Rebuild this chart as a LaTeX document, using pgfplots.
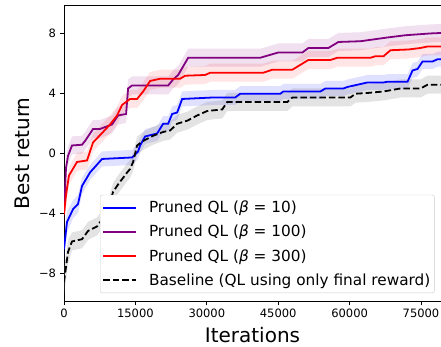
\documentclass[border=0pt]{standalone}
\usepackage{pgfplots}
\pgfplotsset{compat=1.18}
\usepackage{pgfplotstable}
\usepgfplotslibrary{fillbetween}
\usepackage{fontspec}
\setmainfont{DejaVu Sans}
\definecolor{mplpurple}{RGB}{128,0,128}
\definecolor{mplred}{RGB}{255,0,0}
\definecolor{mplblue}{RGB}{0,0,255}

\pgfplotstableread{
x y e
0 -6.4 0.8
631 -4.6 0.7
1894 -3.75 0.6
2946 -3.4 0.6
3787 -2.2 0.55
5470 -1.3 0.5
7995 -0.4 0.5
14307 -0.3 0.5
15570 0.1 0.5
15990 0.5 0.5
17042 1.1 0.5
19567 1.3 0.5
20830 1.95 0.5
21882 1.95 0.5
22723 2.6 0.5
23775 2.7 0.5
24827 3.6 0.5
31350 3.7 0.5
35978 3.7 0.5
37030 3.95 0.5
45446 3.95 0.5
46078 4.1 0.5
53862 4.1 0.5
54914 4.3 0.5
58702 4.3 0.5
59543 4.4 0.5
61648 4.55 0.5
63750 4.7 0.5
67118 4.7 0.5
67960 4.75 0.5
72167 4.75 0.5
73219 5.5 0.5
74271 5.6 0.5
75323 6.1 0.5
77427 6.1 0.5
78479 6.25 0.5
79200 6.25 0.5
}\bluedata

\pgfplotstableread{
x y e
0 -4.0 0.8
421 -1.0 0.7
842 -0.2 0.6
1683 0.5 0.6
3787 0.55 0.6
4418 0.8 0.6
6102 1.6 0.6
7574 1.6 0.6
10099 1.9 0.6
11362 2.5 0.6
13045 2.6 0.6
13466 4.3 0.6
14307 4.5 0.6
21882 4.5 0.6
22934 4.9 0.6
23986 5.2 0.6
26090 6.35 0.6
41238 6.35 0.6
45026 6.7 0.6
50075 6.7 0.6
51338 7.0 0.6
55546 7.0 0.6
57650 7.4 0.6
62278 7.45 0.6
67960 7.7 0.6
71746 7.85 0.6
77006 7.97 0.6
79200 8.0 0.6
}\purpledata

\pgfplotstableread{
x y e
0 -4.1 0.8
421 -2.8 0.7
1052 -1.5 0.6
2735 -0.6 0.6
4839 -0.5 0.6
6102 0.7 0.6
8206 1.4 0.6
9678 1.9 0.6
11151 2.5 0.6
12203 3.2 0.6
13886 3.6 0.6
15359 3.6 0.6
16622 4.1 0.6
18094 4.8 0.6
20198 4.95 0.6
24406 4.95 0.6
25458 5.15 0.6
29666 5.2 0.6
30718 5.35 0.6
41870 5.35 0.6
43763 5.55 0.6
47971 5.55 0.6
51338 6.2 0.6
55966 6.2 0.6
57439 6.35 0.6
64382 6.35 0.6
65434 6.45 0.6
67118 6.45 0.6
68590 6.85 0.6
72378 6.9 0.6
74902 7.0 0.6
76375 7.1 0.6
79200 7.1 0.6
}\reddata

\pgfplotstableread{
x y e
0 -8.6 0.9
842 -6.6 0.8
1683 -5.9 0.6
3787 -5.75 0.6
5050 -5.2 0.6
6943 -4.9 0.6
9047 -3.95 0.6
10310 -2.6 0.6
11362 -2.1 0.6
13255 -1.3 0.6
13886 -1.07 0.6
14518 -0.6 0.6
15359 0.5 0.6
16622 0.8 0.6
18726 1.15 0.6
20830 1.4 0.6
22302 1.5 0.6
23775 1.95 0.6
25879 2.15 0.6
27983 2.5 0.6
30087 2.8 0.6
33243 2.9 0.6
34295 3.4 0.6
46919 3.4 0.6
47971 3.7 0.6
60174 3.7 0.6
61226 3.95 0.6
63750 4.0 0.6
67118 4.1 0.6
70694 4.3 0.6
74902 4.3 0.6
76375 4.55 0.6
79200 4.55 0.6
}\basedata

\begin{document}
\begin{tikzpicture}
\begin{axis}[
  at={(0pt,0pt)}, anchor=south west,
  scale only axis, width=377pt, height=295.3pt,
  xmin=0, xmax=79200, ymin=-9.87, ymax=9.82,
  axis x line*=box, axis y line*=left,
  xtick={0,15000,30000,45000,60000,75000},
  xticklabels={0,15000,30000,45000,60000,75000},
  scaled x ticks=false,
  ytick={-8,-4,0,4,8},
  yticklabels={−8,−4,0,4,8},
  tick pos=left, tick align=outside, major tick length=4.5pt,
  tick style={black, line width=0.9pt},
  axis line style={line width=0.9pt, -},
  ticklabel style={font=\fontsize{11.5}{13}\selectfont},
  xlabel={Iterations}, ylabel={Best return},
  label style={font=\fontsize{20}{24}\selectfont},
  xlabel style={yshift=-3pt},
  ylabel style={yshift=2pt},
  legend cell align=left,
  legend style={at={(axis description cs:0.0955,0.027)}, anchor=south west,
    font=\fontsize{15.3}{18}\selectfont, draw=black!20, rounded corners=2pt,
    fill=white,
    inner xsep=2pt, inner ysep=4pt, row sep=7pt, column sep=10pt},
  legend image code/.code={\draw[#1, line width=1.8pt] (0pt,0pt) -- (33pt,0pt);},
]
\addlegendimage{mplblue}
\addlegendentry{Pruned QL (\textit{β} = 10)}
\addlegendimage{mplpurple}
\addlegendentry{Pruned QL (\textit{β} = 100)}
\addlegendimage{mplred}
\addlegendentry{Pruned QL (\textit{β} = 300)}
\addlegendimage{black, dash pattern=on 6.5pt off 3pt}
\addlegendentry{Baseline (QL using only final reward)}
% bands
\addplot[draw=none, name path=bu, forget plot] table[x=x, y expr=\thisrow{y}+\thisrow{e}] {\bluedata};
\addplot[draw=none, name path=bl, forget plot] table[x=x, y expr=\thisrow{y}-\thisrow{e}] {\bluedata};
\addplot[fill=mplblue, fill opacity=0.12, draw=none, forget plot] fill between[of=bu and bl];
\addplot[draw=none, name path=pu, forget plot] table[x=x, y expr=\thisrow{y}+\thisrow{e}] {\purpledata};
\addplot[draw=none, name path=pl, forget plot] table[x=x, y expr=\thisrow{y}-\thisrow{e}] {\purpledata};
\addplot[fill=mplpurple, fill opacity=0.12, draw=none, forget plot] fill between[of=pu and pl];
\addplot[draw=none, name path=ru, forget plot] table[x=x, y expr=\thisrow{y}+\thisrow{e}] {\reddata};
\addplot[draw=none, name path=rl, forget plot] table[x=x, y expr=\thisrow{y}-\thisrow{e}] {\reddata};
\addplot[fill=mplred, fill opacity=0.1, draw=none, forget plot] fill between[of=ru and rl];
\addplot[draw=none, name path=ku, forget plot] table[x=x, y expr=\thisrow{y}+\thisrow{e}] {\basedata};
\addplot[draw=none, name path=kl, forget plot] table[x=x, y expr=\thisrow{y}-\thisrow{e}] {\basedata};
\addplot[fill=gray, fill opacity=0.22, draw=none, forget plot] fill between[of=ku and kl];
% lines
\addplot[mplblue, line width=1.8pt, forget plot] table[x=x, y=y] {\bluedata};
\addplot[mplpurple, line width=1.8pt, forget plot] table[x=x, y=y] {\purpledata};
\addplot[mplred, line width=1.8pt, forget plot] table[x=x, y=y] {\reddata};
\addplot[black, line width=1.8pt, dash pattern=on 6.5pt off 3pt, forget plot] table[x=x, y=y] {\basedata};
\end{axis}
\pgfresetboundingbox
\useasboundingbox (-64pt,-46pt) rectangle (377pt,301pt);
\end{tikzpicture}
\end{document}
